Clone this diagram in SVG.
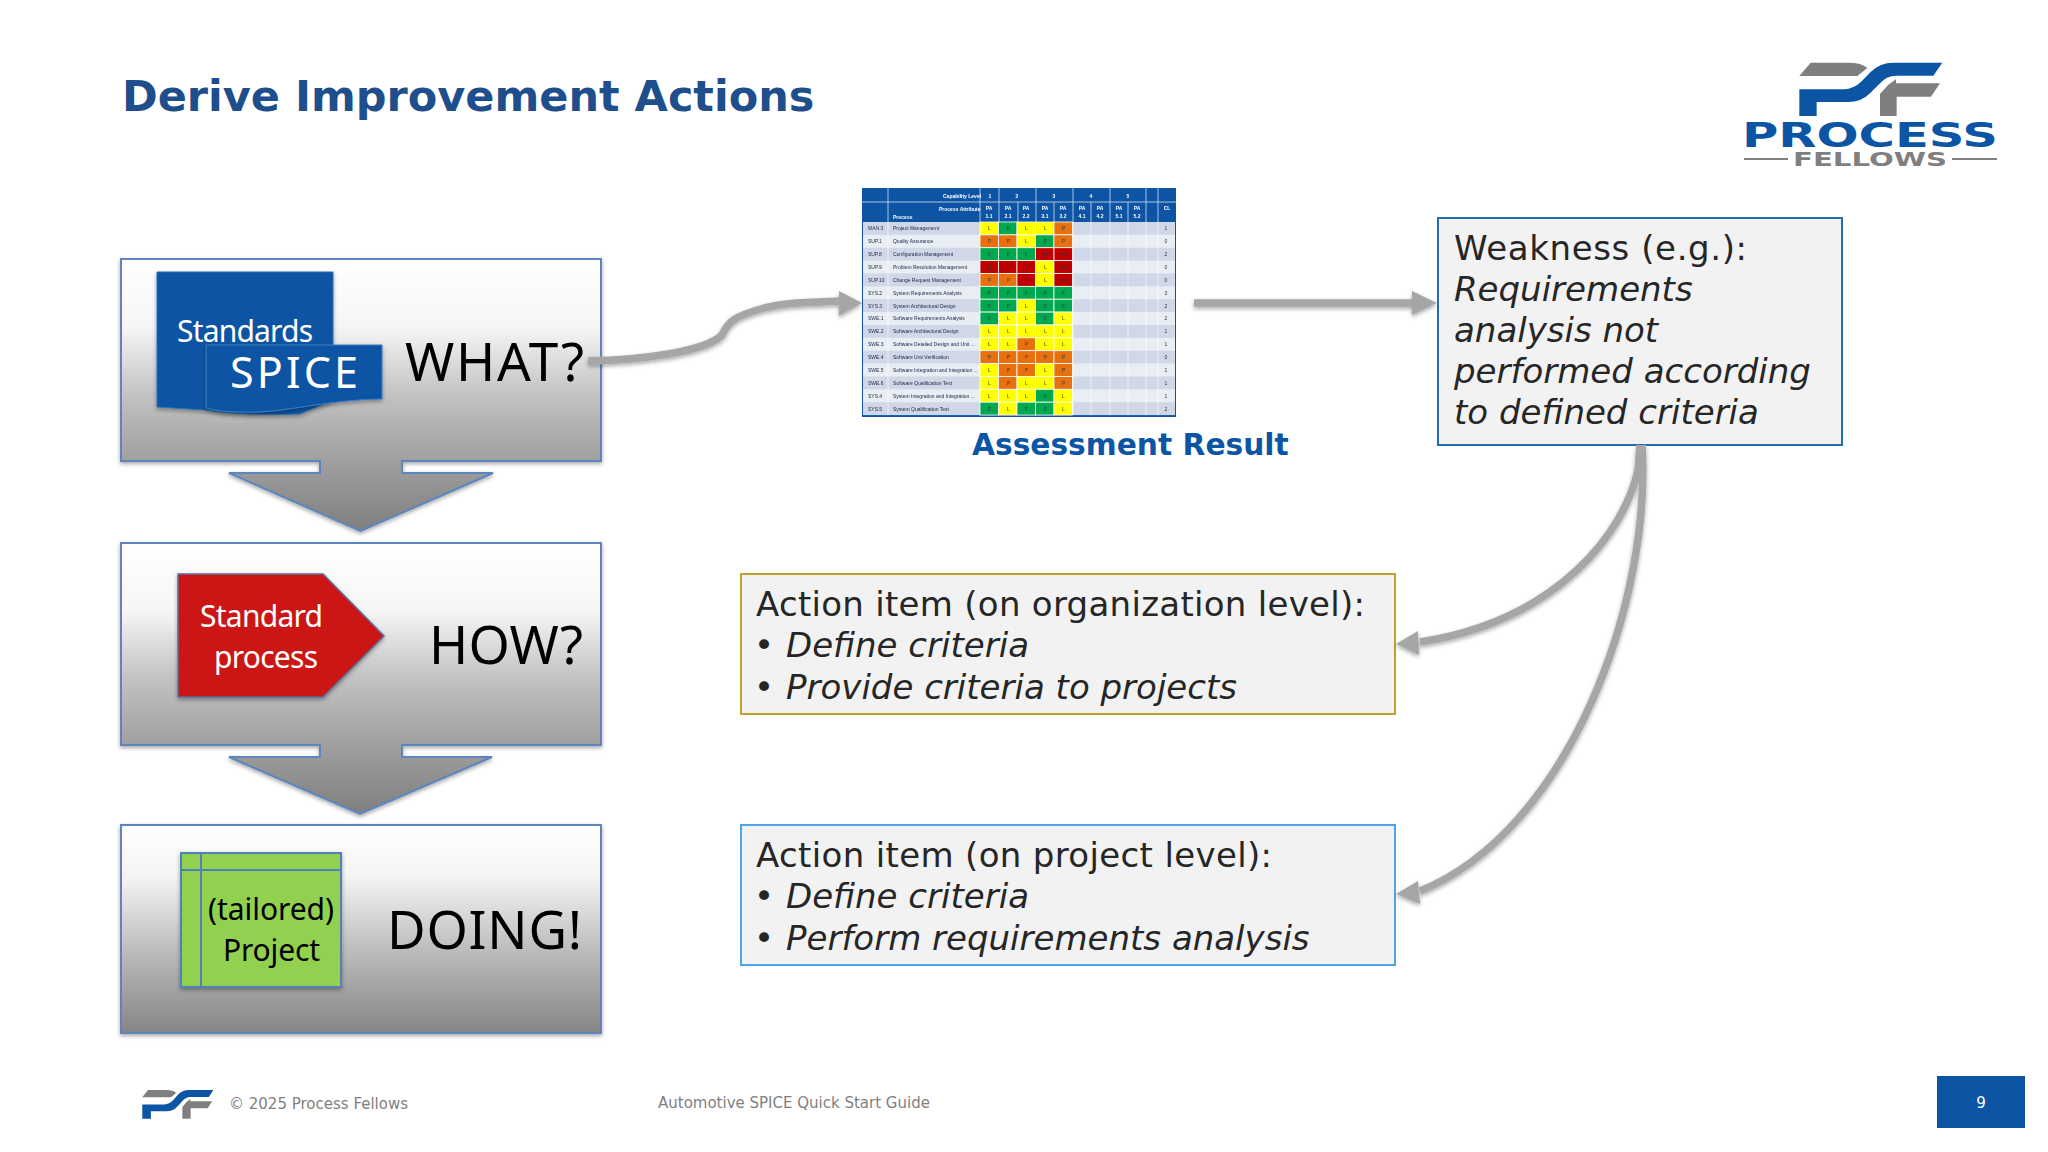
<svg xmlns="http://www.w3.org/2000/svg" xmlns:xlink="http://www.w3.org/1999/xlink" width="2048" height="1152" viewBox="0 0 2048 1152">
<style>
.v{font-family:"DejaVu Sans",Verdana,sans-serif}
.n{font-family:"Noto Sans","Open Sans",sans-serif}
.big{font-size:53px;fill:#000}
.body{font-size:34px;fill:#262626}
.i{font-style:italic}
.w{fill:#fff}
.foot{font-size:15px;fill:#7f7f7f}
.conn{fill:none;stroke:#a6a6a6;stroke-width:7.500}
.head{fill:#a6a6a6}
.frame{stroke:#5b86bd;stroke-width:2}
.note{fill:#f2f2f2;stroke-width:2}
.tt{font-family:"Liberation Sans",Arial,sans-serif;font-size:5px;fill:#1a2440}
.th{font-family:"Liberation Sans",Arial,sans-serif;font-size:5px;font-weight:bold;fill:#fff}
.tc{font-family:"Liberation Sans",Arial,sans-serif;font-size:5px;fill:#333;text-anchor:middle}
.thc{font-family:"Liberation Sans",Arial,sans-serif;font-size:5px;font-weight:bold;fill:#fff;text-anchor:middle}
.cl{font-family:"Liberation Sans",Arial,sans-serif;font-size:4.600px;font-weight:bold;fill:#333;fill-opacity:.75}
.L{fill:#ffff00}.F{fill:#00a84f}.P{fill:#e8700f}.N{fill:#c00000}
</style>
<defs>
<linearGradient id="g1" gradientUnits="userSpaceOnUse" x1="0" y1="259" x2="0" y2="531"><stop offset="0" stop-color="#fff"/><stop offset=".25" stop-color="#f6f6f6"/><stop offset=".5" stop-color="#c2c2c2"/><stop offset=".74" stop-color="#a0a0a0"/><stop offset="1" stop-color="#7f7f7f"/></linearGradient>
<linearGradient id="g2" gradientUnits="userSpaceOnUse" x1="0" y1="543" x2="0" y2="814"><stop offset="0" stop-color="#fff"/><stop offset=".25" stop-color="#f6f6f6"/><stop offset=".5" stop-color="#c2c2c2"/><stop offset=".74" stop-color="#a0a0a0"/><stop offset="1" stop-color="#7f7f7f"/></linearGradient>
<linearGradient id="g3" gradientUnits="userSpaceOnUse" x1="0" y1="825" x2="0" y2="1033"><stop offset="0" stop-color="#fff"/><stop offset=".25" stop-color="#f4f4f4"/><stop offset=".6" stop-color="#bdbdbd"/><stop offset="1" stop-color="#858585"/></linearGradient>
<filter id="sh" x="-10%" y="-10%" width="120%" height="125%"><feDropShadow dx="0" dy="2" stdDeviation="2" flood-color="#000" flood-opacity=".35"/></filter>
<filter id="soft" x="-2%" y="-2%" width="104%" height="104%"><feGaussianBlur stdDeviation=".35"/></filter>
<g id="mark">
<path fill="#7f7f7f" d="M272 68H385Q425 68 442 84L412 108H238Z"/>
<path fill="#0b55a4" d="M667 68H520Q480 68 452 96L425 124Q400 148 372 148H238V228H290V186H385Q425 186 450 160L478 132Q498 107 530 107H640Z"/>
<path fill="#7f7f7f" d="M480 228V162L505 134L528 118V130H660L633 170H530V228Z"/>
</g>
</defs>
<rect width="2048" height="1152" fill="#fff"/>
<text class="v" x="122" y="111" font-size="43" font-weight="bold" fill="#1f4e8c">Derive Improvement Actions</text>

<g id="logo">
<use xlink:href="#mark" href="#mark" transform="translate(1720 40) scale(.3333)"/>
<text class="v" x="1742" y="147" font-size="34" font-weight="bold" fill="#0b55a4" textLength="256" lengthAdjust="spacingAndGlyphs">PROCESS</text>
<text class="v" x="1793" y="166" font-size="20" font-weight="bold" fill="#7f7f7f" textLength="154" lengthAdjust="spacingAndGlyphs">FELLOWS</text>
<path d="M1744 159h44M1952 159h45" stroke="#7f7f7f" stroke-width="2"/>
</g>

<g id="what">
<path filter="url(#sh)" class="frame" fill="url(#g1)" d="M121 259H601V461H402V473H493L360.500 531L229 473H320V461H121Z"/>
<path filter="url(#sh)" d="M157 272H333V400L300 414Q240 416 205 410L157 407Z" fill="#0b55a4" stroke="#2f6fb5"/>
<text class="n w" x="177" y="342" font-size="30" textLength="136">Standards</text>
<path filter="url(#sh)" d="M206 345H382V399C320 400 285 414 240 412Q220 412 206 408Z" fill="#0b55a4" stroke="#3f7cc0"/>
<text class="n w" x="230" y="388" font-size="43" textLength="128">SPICE</text>
<text class="n big" x="405" y="381" textLength="179">WHAT?</text>
</g>

<g id="how">
<path filter="url(#sh)" class="frame" fill="url(#g2)" d="M121 543H601V745H402V757H492L360 814L229 757H320V745H121Z"/>
<path filter="url(#sh)" d="M178 574H323L384 636L323 697H178Z" fill="#cc1517" stroke="#5b6f9d" stroke-width="1.500"/>
<text class="n w" x="200" y="627" font-size="30" textLength="123">Standard</text>
<text class="n w" x="214" y="668" font-size="30" textLength="104">process</text>
<text class="n big" x="429" y="664" textLength="154">HOW?</text>
</g>

<g id="doing">
<rect filter="url(#sh)" class="frame" fill="url(#g3)" x="121" y="825" width="480" height="208"/>
<g filter="url(#sh)"><rect x="181" y="853" width="160" height="134" fill="#92d050" stroke="#4f81bd" stroke-width="2"/></g>
<path d="M201 853V987M181 870H341" stroke="#4f81bd" stroke-width="2" fill="none"/>
<text class="n" x="208" y="920" font-size="30" fill="#000" textLength="126">(tailored)</text>
<text class="n" x="223" y="961" font-size="30" fill="#000" textLength="97">Project</text>
<text class="n big" x="387" y="949" textLength="195">DOING!</text>
</g>

<g id="result-table" filter="url(#soft)">
<rect x="862" y="188" width="314" height="229" fill="#0b55a4"/>
<path d="M862 202H1176M888 188V222M980 188V222M999 188V222M1036 188V222M1073 188V222M1110 188V222M1146 188V222M1158 188V222M1018 202V222M1054 202V222M1091 202V222M1128 202V222" stroke="#cfe0f2" stroke-width=".8" fill="none"/>
<text class="th" x="943" y="198">Capability Level</text>
<text class="th" x="939" y="211">Process Attribute</text>
<text class="th" x="893" y="219">Process</text>
<text class="thc" x="990" y="198">1</text><text class="thc" x="1017" y="198">2</text><text class="thc" x="1054" y="198">3</text><text class="thc" x="1091" y="198">4</text><text class="thc" x="1128" y="198">5</text>
<text class="thc" x="989" y="210">PA</text><text class="thc" x="989" y="218">1.1</text><text class="thc" x="1008" y="210">PA</text><text class="thc" x="1008" y="218">2.1</text><text class="thc" x="1026" y="210">PA</text><text class="thc" x="1026" y="218">2.2</text><text class="thc" x="1045" y="210">PA</text><text class="thc" x="1045" y="218">3.1</text><text class="thc" x="1063" y="210">PA</text><text class="thc" x="1063" y="218">3.2</text><text class="thc" x="1082" y="210">PA</text><text class="thc" x="1082" y="218">4.1</text><text class="thc" x="1100" y="210">PA</text><text class="thc" x="1100" y="218">4.2</text><text class="thc" x="1119" y="210">PA</text><text class="thc" x="1119" y="218">5.1</text><text class="thc" x="1137" y="210">PA</text><text class="thc" x="1137" y="218">5.2</text><text class="thc" x="1167" y="210">CL</text>
<g transform="translate(0 222) scale(1 .99) translate(0 -222)">
<rect x="863" y="222" width="312" height="195" fill="#e9edf4"/>
<g fill="#d0d8e8"><rect x="863" y="222" width="312" height="13"/><rect x="863" y="248" width="312" height="13"/><rect x="863" y="274" width="312" height="13"/><rect x="863" y="300" width="312" height="13"/><rect x="863" y="326" width="312" height="13"/><rect x="863" y="352" width="312" height="13"/><rect x="863" y="378" width="312" height="13"/><rect x="863" y="404" width="312" height="13"/></g>
<g stroke="#fff" stroke-width=".8">
<rect class="L" x="980" y="222" width="18.500" height="13"/><rect class="F" x="998.500" y="222" width="18.500" height="13"/><rect class="L" x="1017" y="222" width="18.500" height="13"/><rect class="L" x="1035.500" y="222" width="18.500" height="13"/><rect class="P" x="1054" y="222" width="18.500" height="13"/>
<rect class="P" x="980" y="235" width="18.500" height="13"/><rect class="P" x="998.500" y="235" width="18.500" height="13"/><rect class="L" x="1017" y="235" width="18.500" height="13"/><rect class="F" x="1035.500" y="235" width="18.500" height="13"/><rect class="P" x="1054" y="235" width="18.500" height="13"/>
<rect class="F" x="980" y="248" width="18.500" height="13"/><rect class="F" x="998.500" y="248" width="18.500" height="13"/><rect class="F" x="1017" y="248" width="18.500" height="13"/><rect class="N" x="1035.500" y="248" width="18.500" height="13"/><rect class="N" x="1054" y="248" width="18.500" height="13"/>
<rect class="N" x="980" y="261" width="18.500" height="13"/><rect class="N" x="998.500" y="261" width="18.500" height="13"/><rect class="N" x="1017" y="261" width="18.500" height="13"/><rect class="L" x="1035.500" y="261" width="18.500" height="13"/><rect class="N" x="1054" y="261" width="18.500" height="13"/>
<rect class="P" x="980" y="274" width="18.500" height="13"/><rect class="P" x="998.500" y="274" width="18.500" height="13"/><rect class="N" x="1017" y="274" width="18.500" height="13"/><rect class="L" x="1035.500" y="274" width="18.500" height="13"/><rect class="N" x="1054" y="274" width="18.500" height="13"/>
<rect class="F" x="980" y="287" width="18.500" height="13"/><rect class="F" x="998.500" y="287" width="18.500" height="13"/><rect class="F" x="1017" y="287" width="18.500" height="13"/><rect class="F" x="1035.500" y="287" width="18.500" height="13"/><rect class="F" x="1054" y="287" width="18.500" height="13"/>
<rect class="F" x="980" y="300" width="18.500" height="13"/><rect class="F" x="998.500" y="300" width="18.500" height="13"/><rect class="L" x="1017" y="300" width="18.500" height="13"/><rect class="F" x="1035.500" y="300" width="18.500" height="13"/><rect class="F" x="1054" y="300" width="18.500" height="13"/>
<rect class="F" x="980" y="313" width="18.500" height="13"/><rect class="L" x="998.500" y="313" width="18.500" height="13"/><rect class="L" x="1017" y="313" width="18.500" height="13"/><rect class="F" x="1035.500" y="313" width="18.500" height="13"/><rect class="L" x="1054" y="313" width="18.500" height="13"/>
<rect class="L" x="980" y="326" width="18.500" height="13"/><rect class="L" x="998.500" y="326" width="18.500" height="13"/><rect class="L" x="1017" y="326" width="18.500" height="13"/><rect class="L" x="1035.500" y="326" width="18.500" height="13"/><rect class="L" x="1054" y="326" width="18.500" height="13"/>
<rect class="L" x="980" y="339" width="18.500" height="13"/><rect class="L" x="998.500" y="339" width="18.500" height="13"/><rect class="P" x="1017" y="339" width="18.500" height="13"/><rect class="L" x="1035.500" y="339" width="18.500" height="13"/><rect class="L" x="1054" y="339" width="18.500" height="13"/>
<rect class="P" x="980" y="352" width="18.500" height="13"/><rect class="P" x="998.500" y="352" width="18.500" height="13"/><rect class="P" x="1017" y="352" width="18.500" height="13"/><rect class="P" x="1035.500" y="352" width="18.500" height="13"/><rect class="P" x="1054" y="352" width="18.500" height="13"/>
<rect class="L" x="980" y="365" width="18.500" height="13"/><rect class="P" x="998.500" y="365" width="18.500" height="13"/><rect class="P" x="1017" y="365" width="18.500" height="13"/><rect class="L" x="1035.500" y="365" width="18.500" height="13"/><rect class="P" x="1054" y="365" width="18.500" height="13"/>
<rect class="L" x="980" y="378" width="18.500" height="13"/><rect class="P" x="998.500" y="378" width="18.500" height="13"/><rect class="L" x="1017" y="378" width="18.500" height="13"/><rect class="L" x="1035.500" y="378" width="18.500" height="13"/><rect class="P" x="1054" y="378" width="18.500" height="13"/>
<rect class="L" x="980" y="391" width="18.500" height="13"/><rect class="L" x="998.500" y="391" width="18.500" height="13"/><rect class="L" x="1017" y="391" width="18.500" height="13"/><rect class="F" x="1035.500" y="391" width="18.500" height="13"/><rect class="L" x="1054" y="391" width="18.500" height="13"/>
<rect class="F" x="980" y="404" width="18.500" height="13"/><rect class="L" x="998.500" y="404" width="18.500" height="13"/><rect class="F" x="1017" y="404" width="18.500" height="13"/><rect class="F" x="1035.500" y="404" width="18.500" height="13"/><rect class="L" x="1054" y="404" width="18.500" height="13"/>
</g>
<path d="M888 222V417M1073 222V417M1091 222V417M1110 222V417M1128 222V417M1146 222V417M1158 222V417" stroke="#fff" stroke-width=".6" fill="none"/>
<g>
<text class="cl" x="988 1007 1025 1044 1062" y="230.500">LFLLP</text>
<text class="cl" x="988 1007 1025 1044 1062" y="243.500">PPLFP</text>
<text class="cl" x="988 1007 1025 1044 1062" y="256.500">FFFNN</text>
<text class="cl" x="988 1007 1025 1044 1062" y="269.500">NNNLN</text>
<text class="cl" x="988 1007 1025 1044 1062" y="282.500">PPNLN</text>
<text class="cl" x="988 1007 1025 1044 1062" y="295.500">FFFFF</text>
<text class="cl" x="988 1007 1025 1044 1062" y="308.500">FFLFF</text>
<text class="cl" x="988 1007 1025 1044 1062" y="321.500">FLLFL</text>
<text class="cl" x="988 1007 1025 1044 1062" y="334.500">LLLLL</text>
<text class="cl" x="988 1007 1025 1044 1062" y="347.500">LLPLL</text>
<text class="cl" x="988 1007 1025 1044 1062" y="360.500">PPPPP</text>
<text class="cl" x="988 1007 1025 1044 1062" y="373.500">LPPLP</text>
<text class="cl" x="988 1007 1025 1044 1062" y="386.500">LPLLP</text>
<text class="cl" x="988 1007 1025 1044 1062" y="399.500">LLLFL</text>
<text class="cl" x="988 1007 1025 1044 1062" y="412.500">FLFFL</text>
</g>
<g>
<text class="tt" x="868" y="230.500">MAN.3</text><text class="tt" x="893" y="230.500">Project Management</text>
<text class="tt" x="868" y="243.500">SUP.1</text><text class="tt" x="893" y="243.500">Quality Assurance</text>
<text class="tt" x="868" y="256.500">SUP.8</text><text class="tt" x="893" y="256.500">Configuration Management</text>
<text class="tt" x="868" y="269.500">SUP.9</text><text class="tt" x="893" y="269.500">Problem Resolution Management</text>
<text class="tt" x="868" y="282.500">SUP.10</text><text class="tt" x="893" y="282.500">Change Request Management</text>
<text class="tt" x="868" y="295.500">SYS.2</text><text class="tt" x="893" y="295.500">System Requirements Analysis</text>
<text class="tt" x="868" y="308.500">SYS.3</text><text class="tt" x="893" y="308.500">System Architectural Design</text>
<text class="tt" x="868" y="321.500">SWE.1</text><text class="tt" x="893" y="321.500">Software Requirements Analysis</text>
<text class="tt" x="868" y="334.500">SWE.2</text><text class="tt" x="893" y="334.500">Software Architectural Design</text>
<text class="tt" x="868" y="347.500">SWE.3</text><text class="tt" x="893" y="347.500">Software Detailed Design and Unit ...</text>
<text class="tt" x="868" y="360.500">SWE.4</text><text class="tt" x="893" y="360.500">Software Unit Verification</text>
<text class="tt" x="868" y="373.500">SWE.5</text><text class="tt" x="893" y="373.500">Software Integration and Integration ...</text>
<text class="tt" x="868" y="386.500">SWE.6</text><text class="tt" x="893" y="386.500">Software Qualification Test</text>
<text class="tt" x="868" y="399.500">SYS.4</text><text class="tt" x="893" y="399.500">System Integration and Integration ...</text>
<text class="tt" x="868" y="412.500">SYS.5</text><text class="tt" x="893" y="412.500">System Qualification Test</text>
</g>
<g>
<text class="tc" x="1166" y="230.500">1</text><text class="tc" x="1166" y="243.500">0</text><text class="tc" x="1166" y="256.500">2</text><text class="tc" x="1166" y="269.500">0</text><text class="tc" x="1166" y="282.500">0</text><text class="tc" x="1166" y="295.500">3</text><text class="tc" x="1166" y="308.500">2</text><text class="tc" x="1166" y="321.500">2</text><text class="tc" x="1166" y="334.500">1</text><text class="tc" x="1166" y="347.500">1</text><text class="tc" x="1166" y="360.500">0</text><text class="tc" x="1166" y="373.500">1</text><text class="tc" x="1166" y="386.500">1</text><text class="tc" x="1166" y="399.500">1</text><text class="tc" x="1166" y="412.500">2</text>
</g>
</g>
</g>
<text id="result-label" class="v" x="972" y="455" font-size="29.700" font-weight="bold" fill="#0b55a4">Assessment Result</text>

<g id="weakness">
<rect class="note" x="1438" y="218" width="404" height="227" stroke="#1f6fb0"/>
<text class="v body" x="1454" y="260" textLength="293">Weakness (e.g.):</text>
<text class="v body i" x="1454" y="301">Requirements</text>
<text class="v body i" x="1454" y="342">analysis not</text>
<text class="v body i" x="1454" y="383">performed according</text>
<text class="v body i" x="1454" y="424">to defined criteria</text>
</g>
<g id="action-org">
<rect class="note" x="741" y="574" width="654" height="140" stroke="#bfa22c"/>
<text class="v body" x="756" y="616" textLength="609">Action item (on organization level):</text>
<text class="v body" x="754" y="657">•</text><text class="v body i" x="786" y="657">Define criteria</text>
<text class="v body" x="754" y="699">•</text><text class="v body i" x="786" y="699">Provide criteria to projects</text>
</g>
<g id="action-project">
<rect class="note" x="741" y="825" width="654" height="140" stroke="#4da6ea"/>
<text class="v body" x="756" y="867" textLength="516">Action item (on project level):</text>
<text class="v body" x="754" y="908">•</text><text class="v body i" x="786" y="908">Define criteria</text>
<text class="v body" x="754" y="950">•</text><text class="v body i" x="786" y="950">Perform requirements analysis</text>
</g>

<g id="connectors">
<g filter="url(#sh)">
<path class="conn" d="M588 361C640 360 705 352 722 335C728 322 734 316 764 308C789 302 815 302 840 301"/>
<path class="head" d="M839 291L862 303L839 316Z"/>
<path class="conn" d="M1194 303H1414"/>
<path class="head" d="M1412 291L1437 303L1412 315Z"/>
<path class="conn" d="M1640 445L1638 470C1625 530 1560 620 1420 642"/>
<path class="head" d="M1418 631L1396 644L1419 655Z"/>
<path class="conn" d="M1642 445C1652 600 1570 830 1420 891"/>
<path class="head" d="M1418 881L1396 894L1420 904Z"/>
</g>
</g>

<g id="footer">
<use xlink:href="#mark" href="#mark" transform="translate(142.300 1090) scale(.1655 .18) translate(-238 -68)"/>
<text class="v foot" x="229" y="1109">© 2025 Process Fellows</text>
<text class="v foot" x="658" y="1108">Automotive SPICE Quick Start Guide</text>
<rect x="1937" y="1076" width="88" height="52" fill="#0b55a4"/>
<text class="v" x="1981" y="1108" font-size="15" fill="#fff" text-anchor="middle">9</text>
</g>
</svg>
